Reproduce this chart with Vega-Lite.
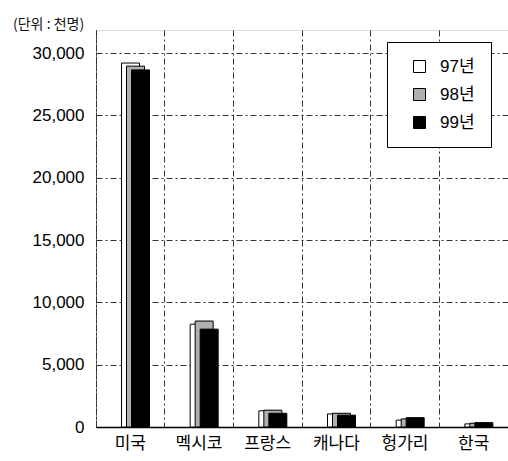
{
  "$schema": "https://vega.github.io/schema/vega-lite/v6.json",
  "width": 412,
  "height": 397,
  "autosize": "none",
  "padding": {"left": 96, "top": 30, "right": 0, "bottom": 34},
  "background": "white",
  "title": {"text": "(단위 : 천명)", "anchor": "start", "frame": "group", "dx": -83, "dy": 4, "offset": 2, "fontSize": 14, "font": "Noto Sans CJK KR", "fontWeight": "normal", "color": "#111"},
  "data": {"values": [
    {"country": "미국", "year": "97년", "value": 29200},
    {"country": "미국", "year": "98년", "value": 28950},
    {"country": "미국", "year": "99년", "value": 28650},
    {"country": "멕시코", "year": "97년", "value": 8250},
    {"country": "멕시코", "year": "98년", "value": 8500},
    {"country": "멕시코", "year": "99년", "value": 7850},
    {"country": "프랑스", "year": "97년", "value": 1300},
    {"country": "프랑스", "year": "98년", "value": 1350},
    {"country": "프랑스", "year": "99년", "value": 1100},
    {"country": "캐나다", "year": "97년", "value": 1050},
    {"country": "캐나다", "year": "98년", "value": 1100},
    {"country": "캐나다", "year": "99년", "value": 950},
    {"country": "헝가리", "year": "97년", "value": 550},
    {"country": "헝가리", "year": "98년", "value": 650},
    {"country": "헝가리", "year": "99년", "value": 750},
    {"country": "한국", "year": "97년", "value": 250},
    {"country": "한국", "year": "98년", "value": 300},
    {"country": "한국", "year": "99년", "value": 350}
  ]},
  "mark": {"type": "bar", "width": 18, "stroke": "black", "strokeWidth": 1},
  "encoding": {
    "x": {
      "field": "country", "type": "nominal", "sort": null,
      "scale": {"paddingInner": 0, "paddingOuter": 0},
      "axis": {
        "title": null, "labelAngle": 0, "labelFontSize": 17, "labelFont": "Noto Sans CJK KR", "labelColor": "black",
        "labelPadding": 8, "ticks": false, "domainColor": "black", "domainWidth": 1.5,
        "grid": true, "bandPosition": 0, "gridColor": "#333", "gridDash": [6, 3, 2, 3], "gridWidth": 1
      }
    },
    "xOffset": {"field": "year", "type": "nominal", "scale": {"range": [32, 47], "paddingInner": 0, "paddingOuter": 0}},
    "y": {
      "field": "value", "type": "quantitative",
      "scale": {"domain": [0, 31850], "nice": false},
      "axis": {
        "title": null, "values": [0, 5000, 10000, 15000, 20000, 25000, 30000], "format": ",d",
        "labelFontSize": 17, "labelFont": "Liberation Sans", "labelColor": "black", "labelPadding": 12,
        "ticks": false, "domainColor": "#333", "domainDash": [3, 1],
        "grid": true, "gridColor": "#333", "gridDash": [6, 3, 2, 3], "gridWidth": 1
      }
    },
    "fill": {
      "field": "year", "type": "nominal",
      "scale": {"domain": ["97년", "98년", "99년"], "range": ["white", "#b0b0b0", "black"]},
      "legend": {
        "title": null, "orient": "none", "legendX": 291, "legendY": 12,
        "strokeColor": "black", "fillColor": "white", "padding": 16,
        "symbolType": "square", "symbolSize": 144, "symbolStrokeColor": "black", "symbolStrokeWidth": 1,
        "symbolOffset": 8, "labelOffset": 12, "labelFontSize": 17, "labelFont": "Liberation Sans, Noto Sans CJK KR",
        "labelColor": "black", "rowPadding": 10
      }
    }
  }
}
